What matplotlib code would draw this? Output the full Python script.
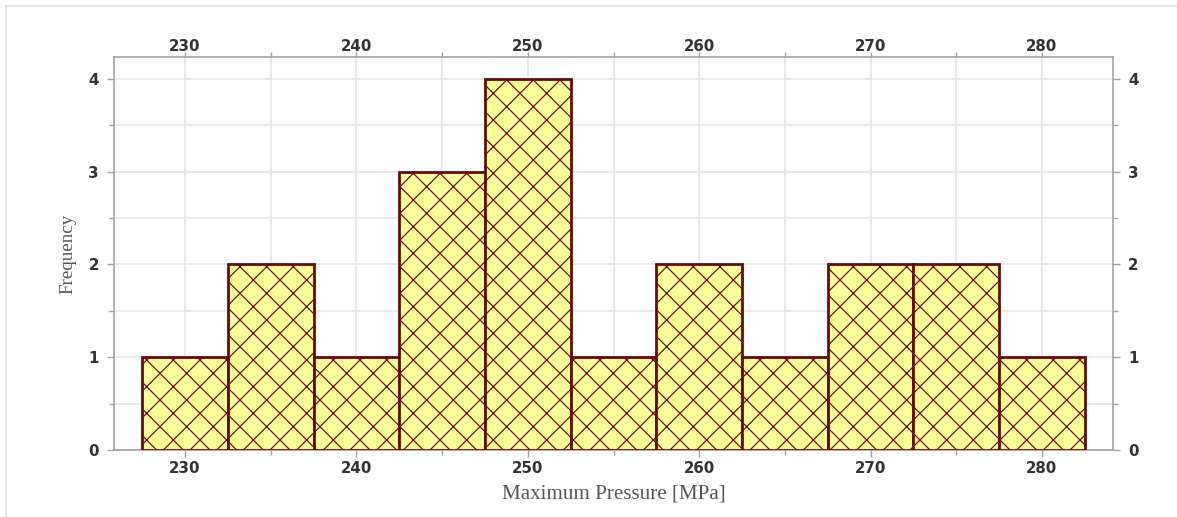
import numpy as np
import matplotlib
matplotlib.use("Agg")
import matplotlib.pyplot as plt
from matplotlib.ticker import MultipleLocator
from matplotlib.lines import Line2D

# histogram data: bin edges (MPa) and counts
bin_edges = [227.5, 232.5, 237.5, 242.5, 247.5, 252.5, 257.5, 262.5, 267.5, 272.5, 277.5, 282.5]
counts = [1, 2, 1, 3, 4, 1, 2, 1, 2, 2, 1]
x_label = "Maximum Pressure [MPa]"
y_label = "Frequency"

DPI = 160  # bigger dpi makes the 'x' hatch as coarse as in the reference
W, H = 1177, 517
px = 72.0 / DPI  # one pixel in points

plt.rcParams['hatch.color'] = '#7a1a1a'
plt.rcParams['hatch.linewidth'] = 1.2 * px

fig = plt.figure(figsize=(W / DPI, H / DPI), dpi=DPI)
ax = fig.add_axes([114 / W, 1 - 450 / H, (1113 - 114) / W, (450 - 57) / H])

lefts = np.array(bin_edges[:-1])
widths = np.diff(bin_edges)
ax.bar(lefts, counts, width=widths, align='edge', color='#ffff99',
       edgecolor='#6b0a0a', linewidth=2.8 * px, hatch='xx', zorder=3)

xlim = (225.85, 284.15)
ax.set_xlim(*xlim)
ax.set_ylim(0, 4.237)
ax.xaxis.set_major_locator(MultipleLocator(10))
ax.xaxis.set_minor_locator(MultipleLocator(5))
ax.yaxis.set_major_locator(MultipleLocator(1))
ax.yaxis.set_minor_locator(MultipleLocator(0.5))

ax.grid(True, which='both', color='#e3e3e3', linewidth=1.5 * px, zorder=0)
ax.set_axisbelow(True)

for s in ax.spines.values():
    s.set_color('#a0a0a0')
    s.set_linewidth(1.6 * px)

ax.tick_params(which='both', direction='out', color='#a0a0a0', width=1.4 * px,
               right=True, labelright=True,
               labelcolor='#333333', labelsize=15 * px)
ax.tick_params(which='major', length=7 * px)
ax.tick_params(which='minor', length=5 * px)
ax.tick_params(axis='y', pad=8 * px)
ax.tick_params(axis='x', which='major', pad=4 * px)

# top axis with its own (smaller) label pad
top = ax.twiny()
top.set_xlim(*xlim)
top.xaxis.set_major_locator(MultipleLocator(10))
top.xaxis.set_minor_locator(MultipleLocator(5))
top.tick_params(which='both', direction='out', color='#a0a0a0', width=1.4 * px,
                length=5 * px, pad=-2 * px, labelcolor='#333333', labelsize=15 * px)
for s in top.spines.values():
    s.set_visible(False)

for a in (ax, top):
    for lab in a.get_xticklabels() + a.get_yticklabels():
        lab.set_fontweight('bold')
for t in ax.yaxis.get_major_ticks():
    t.label2.set_fontweight('bold')

ax.set_xlabel(x_label, family='Liberation Serif', size=21 * px, color='#555555',
              labelpad=8 * px)
ax.set_ylabel(y_label, family='Liberation Serif', size=19 * px, color='#555555',
              labelpad=12 * px)

# light frame at the top and left of the image
fig.add_artist(Line2D([6 / W, 1], [1 - 6 / H, 1 - 6 / H], color='#dddddd',
                      linewidth=1.5 * px, transform=fig.transFigure))
fig.add_artist(Line2D([6 / W, 6 / W], [0, 1 - 6 / H], color='#dddddd',
                      linewidth=1.5 * px, transform=fig.transFigure))

fig.savefig('out.png', dpi=DPI)
